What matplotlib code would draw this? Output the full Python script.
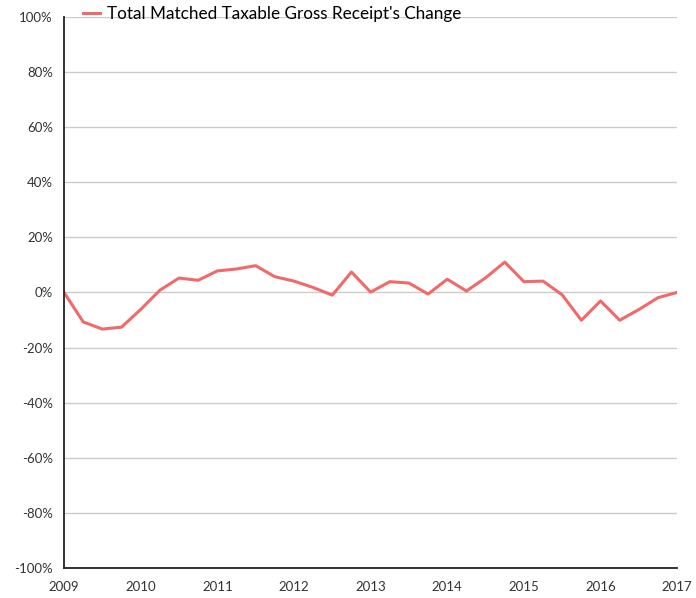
import numpy as np
from matplotlib import pyplot as plt
from matplotlib.ticker import FuncFormatter

plt.rcParams['font.family'] = ['Lato', 'DejaVu Sans']

# quarterly change, 2009 Q1 .. 2017 Q1
years = [2009, 2010, 2011, 2012, 2013, 2014, 2015, 2016, 2017]
change = [0.0, -10.7, -13.3, -12.6, -6.2, 0.8, 5.2, 4.4,
          7.8, 8.5, 9.7, 5.7, 4.1, 1.8, -1.0, 7.4,
          0.1, 3.9, 3.4, -0.6, 4.8, 0.5, 5.3, 11.0,
          3.9, 4.1, -0.9, -10.1, -3.1, -10.1, -6.2, -1.9,
          0.0]
series_name = "Total Matched Taxable Gross Receipt's Change"

x = 2009 + np.arange(len(change)) / 4.0

fig = plt.figure(figsize=(6.96, 5.98), dpi=100)
ax = fig.add_axes([0.092, 0.050, 0.881, 0.922])

ax.plot(x, change, color='#f06a6a', lw=2.2, label=series_name)

ax.set_xlim(2009, 2017)
ax.set_ylim(-100, 100)
ax.set_xticks(years)
ax.set_yticks(np.arange(-100, 101, 20))
ax.yaxis.set_major_formatter(FuncFormatter(lambda v, p: '%d%%' % v))
ax.tick_params(axis='both', length=0, labelsize=9.5, colors='#333333')
ax.tick_params(axis='y', pad=8)
ax.tick_params(axis='x', pad=9)

ax.grid(axis='y', color='#cccccc', lw=1)
ax.set_axisbelow(True)
for s in ['top', 'right']:
    ax.spines[s].set_visible(False)
for s in ['left', 'bottom']:
    ax.spines[s].set_color('#222222')
    ax.spines[s].set_linewidth(1.3)

fig.legend(*ax.get_legend_handles_labels(), loc='center left',
           bbox_to_anchor=(0.119, 0.977), bbox_transform=fig.transFigure,
           frameon=False, fontsize=12.3, handlelength=1.0, handletextpad=0.4,
           borderaxespad=0, borderpad=0)

fig.savefig('out.png', dpi=100)
